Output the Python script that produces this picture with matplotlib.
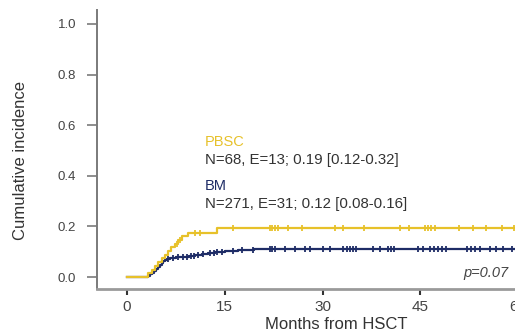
import numpy as np
import matplotlib
matplotlib.use("Agg")
import matplotlib.pyplot as plt

plt.rcParams["font.family"] = ["Liberation Sans", "DejaVu Sans"]

# ---------------------------------------------------------------------------
# Data
# ---------------------------------------------------------------------------
pbsc_time = [0, 3.3, 3.8, 4.3, 4.8, 5.3, 5.8, 6.3, 6.8, 7.3, 7.8, 8.4, 9.3, 13.8, 64]
pbsc_ci = [0, 0.015, 0.029, 0.044, 0.059, 0.074, 0.088, 0.103, 0.118, 0.132,
           0.147, 0.162, 0.176, 0.194, 0.194]
pbsc_censor = [7.6, 8.2, 10.5, 11.2, 16.3, 21.9, 22.3, 22.7, 23.1, 24.7, 26.8,
               31.9, 33.2, 36.3, 41.9, 43.2, 45.7, 46.2, 46.7, 47.3, 51.0,
               53.0, 55.0, 57.5, 59.3]

bm_time = [0, 3.3, 3.6, 3.9, 4.2, 4.5, 4.8, 5.0, 5.3, 5.6, 5.9, 6.2, 6.6, 7.5,
           8.5, 9.5, 10.5, 11.5, 12.5, 13.5, 15.0, 17.0, 19.5, 64]
bm_ci = [0, 0.004, 0.011, 0.018, 0.026, 0.033, 0.040, 0.048, 0.055, 0.062,
         0.066, 0.070, 0.074, 0.078, 0.081, 0.085, 0.089, 0.092, 0.096, 0.100,
         0.103, 0.107, 0.111, 0.111]
bm_censor = [6.3, 7.0, 7.8, 8.6, 9.2, 9.8, 10.3, 10.9, 11.6, 12.8, 13.3, 13.8,
             14.6, 16.3, 17.6, 19.4, 21.9, 22.3, 22.7, 24.2, 25.7, 27.3, 28.0,
             30.1, 31.1, 33.2, 33.7, 34.2, 34.7, 35.2, 37.7, 38.8, 40.0, 40.5,
             41.0, 44.6, 45.4, 46.5, 47.1, 47.7, 48.3, 49.0, 52.1, 52.7, 53.4,
             54.1, 55.7, 56.6, 57.7, 59.0]

x_ticks = [0, 15, 30, 45, 60]
y_ticks = [0.0, 0.2, 0.4, 0.6, 0.8, 1.0]

GOLD = "#E7C12A"
NAVY = "#1E2C66"


def censor_y(times, ci, cens):
    idx = np.searchsorted(times, cens, side="right") - 1
    return np.asarray(ci)[idx]


fig = plt.figure(figsize=(5.15, 3.33), dpi=100)
ax = fig.add_axes([0.1883, 0.132, 0.928, 0.838])

ax.step(bm_time, bm_ci, where="post", color=NAVY, lw=1.6, zorder=2)
ax.plot(bm_censor, censor_y(bm_time, bm_ci, bm_censor), ls="none",
        marker="|", ms=5, mew=1.3, color=NAVY, zorder=2)
ax.step(pbsc_time, pbsc_ci, where="post", color=GOLD, lw=1.6, zorder=3)
ax.plot(pbsc_censor, censor_y(pbsc_time, pbsc_ci, pbsc_censor), ls="none",
        marker="|", ms=5, mew=1.3, color=GOLD, zorder=3)

ax.set_xlim(-4.6, 68.7)
ax.set_ylim(-0.047, 1.055)
ax.set_xticks(x_ticks)
ax.set_yticks(y_ticks)
ax.set_yticklabels([f"{v:.1f}" for v in y_ticks])

for side in ("top", "right"):
    ax.spines[side].set_visible(False)
ax.spines["left"].set_color("#7a7a7a")
ax.spines["left"].set_linewidth(1.4)
ax.spines["bottom"].set_color("#9a9a9a")
ax.spines["bottom"].set_linewidth(2.0)

ax.tick_params(axis="y", length=7, width=1.2, color="#7a7a7a", pad=8,
               labelsize=9.5, labelcolor="#444444")
ax.tick_params(axis="x", length=4, width=1.5, color="#333333", pad=4,
               labelsize=11, labelcolor="#444444")

ax.set_ylabel("Cumulative incidence", fontsize=12, color="#333333")
ax.yaxis.set_label_coords(-0.144, 0.46)
ax.set_xlabel("Months from HSCT", fontsize=12, color="#333333", labelpad=2)

ax.text(12.0, 0.534, "PBSC", color=GOLD, fontsize=10.5, va="center")
ax.text(12.0, 0.462, "N=68, E=13; 0.19 [0.12-0.32]", color="#333333",
        fontsize=10.8, va="center")
ax.text(12.0, 0.360, "BM", color=NAVY, fontsize=10.5, va="center")
ax.text(12.0, 0.289, "N=271, E=31; 0.12 [0.08-0.16]", color="#333333",
        fontsize=10.8, va="center")
ax.text(51.6, 0.018, "p=0.07", color="#444444", fontsize=10.5,
        style="italic", va="center")

fig.savefig("out.png", dpi=100)
